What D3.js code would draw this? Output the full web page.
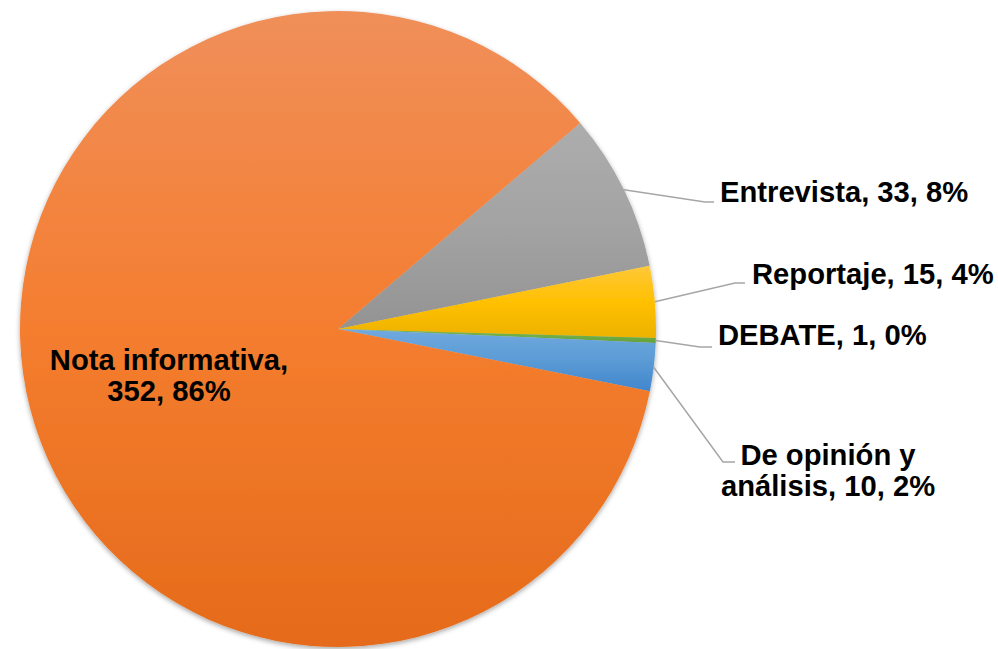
<!DOCTYPE html>
<html>
<head>
<meta charset="utf-8">
<script src="https://cdn.jsdelivr.net/npm/d3@7"></script>
<style>
  html, body { margin: 0; padding: 0; background: #fff; }
  svg { display: block; }
  .lbl { font-family: "Liberation Sans", Arial, sans-serif; font-weight: bold; font-size: 29.2px; fill: #000; }
  .leader { fill: none; stroke: #a6a6a6; stroke-width: 1.5; }
</style>
</head>
<body>
<div id="chart"></div>
<script>
// data
const categories = ['Entrevista', 'Reportaje', 'DEBATE', 'De opinión y análisis', 'Nota informativa'];
const values = [33, 15, 1, 10, 352];
const percents = ['8%', '4%', '0%', '2%', '86%'];
// label text lines as they wrap in the original
const labelLines = [
    ['Entrevista, 33, 8%'],
    ['Reportaje, 15, 4%'],
    ['DEBATE, 1, 0%'],
    ['De opinión y', 'análisis, 10, 2%'],
    ['Nota informativa,', '352, 86%'],
];
// gradient stops per slice (top -> bottom)
const colors = [
    ['#adadad', '#a3a3a3', '#939393'],
    ['#ffc83a', '#ffc000', '#edb200'],
    ['#76b54a', '#70ad47', '#62a03b'],
    ['#70a9df', '#5b9bd5', '#4186cd'],
    ['#f08f5a', '#f47d2f', '#e56b1a'],
];

const width = 998, height = 649;
const cx = 338, cy = 329, radius = 318;
const startDeg = 49.6;

// label layout: elbow (ex, ey), end of horizontal tick (hx), text x, first baseline, anchor
const labelLayout = [
    { ex: 705, ey: 202, hx: 714, tx: 720, ty: 202, anchor: 'start' },
    { ex: 735, ey: 283, hx: 745, tx: 752, ty: 284, anchor: 'start' },
    { ex: 700, ey: 347, hx: 712, tx: 718, ty: 345, anchor: 'start' },
    { ex: 723, ey: 462, hx: 735, tx: 828, ty: 465, anchor: 'middle' },
    { inside: true, tx: 169, ty: 370, anchor: 'middle' },
];
const lineHeight = 31;

const svg = d3.select('#chart').append('svg')
    .attr('width', width)
    .attr('height', height);

const defs = svg.append('defs');

const shadow = defs.append('filter')
    .attr('id', 'shadow')
    .attr('x', '-10%').attr('y', '-10%')
    .attr('width', '120%').attr('height', '120%');
shadow.append('feDropShadow')
    .attr('dx', 0).attr('dy', 2)
    .attr('stdDeviation', 2.5)
    .attr('flood-color', '#000')
    .attr('flood-opacity', 0.35);

colors.forEach((c, i) => {
    const g = defs.append('linearGradient')
        .attr('id', `grad-${i}`)
        .attr('x1', 0).attr('y1', 0)
        .attr('x2', 0).attr('y2', 1);
    g.selectAll('stop')
        .data(c)
        .join('stop')
        .attr('offset', (d, j) => j / (c.length - 1))
        .attr('stop-color', (d) => d);
});

const data = categories.map((name, i) => ({ name, value: values[i], pct: percents[i], i }));

const a0 = startDeg * Math.PI / 180;
const pie = d3.pie()
    .sort(null)
    .value((d) => d.value)
    .startAngle(a0)
    .endAngle(a0 + 2 * Math.PI);

const arcs = pie(data);

const arc = d3.arc()
    .innerRadius(0)
    .outerRadius(radius);

const plot = svg.append('g')
    .attr('transform', `translate(${cx},${cy})`);

const slices = plot.append('g')
    .attr('class', 'slices')
    .attr('filter', 'url(#shadow)');

slices.selectAll('path')
    .data(arcs)
    .join('path')
    .attr('d', arc)
    .attr('fill', (d) => `url(#grad-${d.data.i})`);

// leader lines for the outside labels
const leaders = svg.append('g').attr('class', 'leaders');
arcs.forEach((d, i) => {
    const L = labelLayout[i];
    if (L.inside) return;
    const mid = (d.startAngle + d.endAngle) / 2;
    const px = cx + radius * Math.sin(mid);
    const py = cy - radius * Math.cos(mid);
    leaders.append('path')
        .attr('class', 'leader')
        .attr('d', d3.line()([[px, py], [L.ex, L.ey], [L.hx, L.ey]]));
});

// labels
const labels = svg.append('g').attr('class', 'labels');
arcs.forEach((d, i) => {
    const L = labelLayout[i];
    const t = labels.append('text')
        .attr('class', 'lbl')
        .attr('text-anchor', L.anchor);
    labelLines[i].forEach((line, j) => {
        t.append('tspan')
            .attr('x', L.tx)
            .attr('y', L.ty + j * lineHeight)
            .text(line);
    });
});
</script>
</body>
</html>
